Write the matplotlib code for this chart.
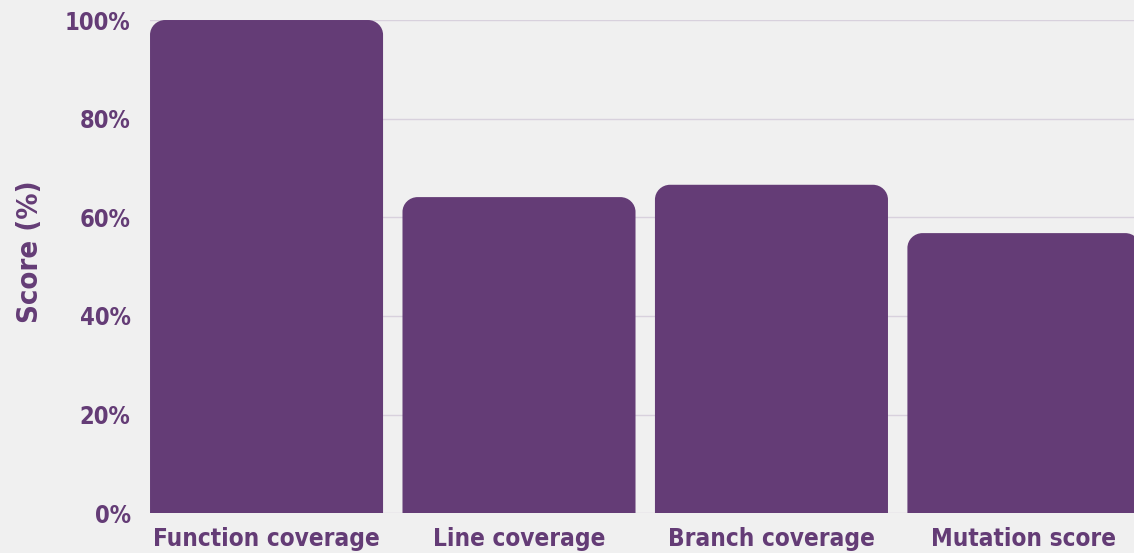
import matplotlib
matplotlib.use("Agg")
from matplotlib import pyplot as plt
from matplotlib.path import Path
from matplotlib.patches import PathPatch

categories = ["Function coverage", "Line coverage", "Branch coverage", "Mutation score"]
scores = [100.0, 64.1, 66.6, 56.8]
yticks = [0, 20, 40, 60, 80, 100]

PURPLE = "#643c76"
BG = "#f0f0f0"
GRID = "#d8d1dd"

plt.rcParams['font.family'] = ['DejaVu Sans']
plt.rcParams['font.stretch'] = 'condensed'
plt.rcParams['font.weight'] = 'bold'

fig = plt.figure(figsize=(11.34, 5.53), dpi=100, facecolor=BG)
ax = fig.add_axes([0.1323, 0.0718, 0.8677, 0.892], facecolor=BG)

bars = ax.bar(range(len(categories)), scores, width=0.923, color=PURPLE, zorder=2)
ax.set_xlim(-0.4615, 3.436)
ax.set_ylim(0, 100)

# swap the square bars for ones with rounded top corners
rx, ry = 0.06, 3.0  # corner radius in data units (~15px each way)
k = 0.5523
for b in bars:
    x0, w, h = b.get_x(), b.get_width(), b.get_height()
    x1 = x0 + w
    verts = [(x0, 0), (x0, h - ry),
             (x0, h - ry + k * ry), (x0 + rx - k * rx, h), (x0 + rx, h),
             (x1 - rx, h),
             (x1 - rx + k * rx, h), (x1, h - ry + k * ry), (x1, h - ry),
             (x1, 0), (x0, 0)]
    codes = [Path.MOVETO, Path.LINETO,
             Path.CURVE4, Path.CURVE4, Path.CURVE4,
             Path.LINETO,
             Path.CURVE4, Path.CURVE4, Path.CURVE4,
             Path.LINETO, Path.CLOSEPOLY]
    ax.add_patch(PathPatch(Path(verts, codes), facecolor=PURPLE, edgecolor='none', zorder=2))
    b.set_visible(False)

ax.set_yticks(yticks)
ax.set_yticklabels([f"{t}%" for t in yticks])
ax.set_xticks(range(len(categories)))
ax.set_xticklabels(categories)
ax.tick_params(axis='y', length=0, pad=14, labelsize=17, labelcolor=PURPLE)
ax.tick_params(axis='x', length=0, pad=10, labelsize=17.5, labelcolor=PURPLE)
ax.grid(axis='y', color=GRID, linewidth=1, zorder=0)
ax.set_axisbelow(True)
for s in ax.spines.values():
    s.set_visible(False)

ax.set_ylabel("Score (%)", fontsize=21, fontweight='bold', color=PURPLE, va='center')
ax.yaxis.set_label_coords(-0.122, 0.53)

fig.savefig("out.png", dpi=100, facecolor=BG)
